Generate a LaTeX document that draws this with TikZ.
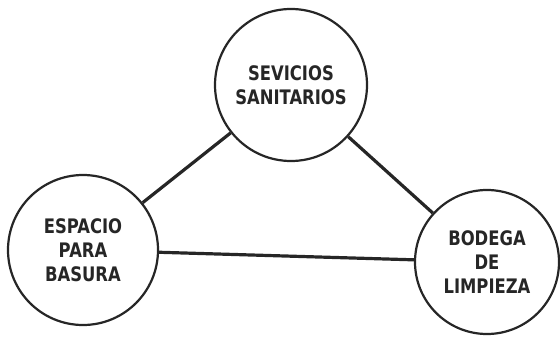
\documentclass[tikz,border=0pt]{standalone}
\usepackage{fontspec}
\setmainfont{DejaVu Sans}[FakeStretch=0.82]
\usetikzlibrary{shapes.geometric}
\tikzset{
  zona/.style={circle, draw=black!85, line width=1.1pt, align=center,
    font=\bfseries\fontsize{10}{12}\selectfont, text=black!85, inner sep=0pt, fill=white},
  enlace/.style={draw=black!85, line width=1.6pt}
}
\begin{document}
\begin{tikzpicture}[x=0.5pt, y=-0.5pt]
  \useasboundingbox (0,0) rectangle (560,336);
  \node[zona, minimum size=76pt] (sanit) at (291,85) {SEVICIOS\\SANITARIOS};
  \node[zona, minimum size=75pt] (basura) at (83,250) {ESPACIO\\PARA\\BASURA};
  \node[zona, minimum size=72pt] (bodega) at (487,262) {BODEGA\\DE\\LIMPIEZA};
  \draw[enlace] (basura) -- (sanit);
  \draw[enlace] (sanit) -- (bodega);
  \draw[enlace] (basura) -- (bodega);
\end{tikzpicture}
\end{document}
